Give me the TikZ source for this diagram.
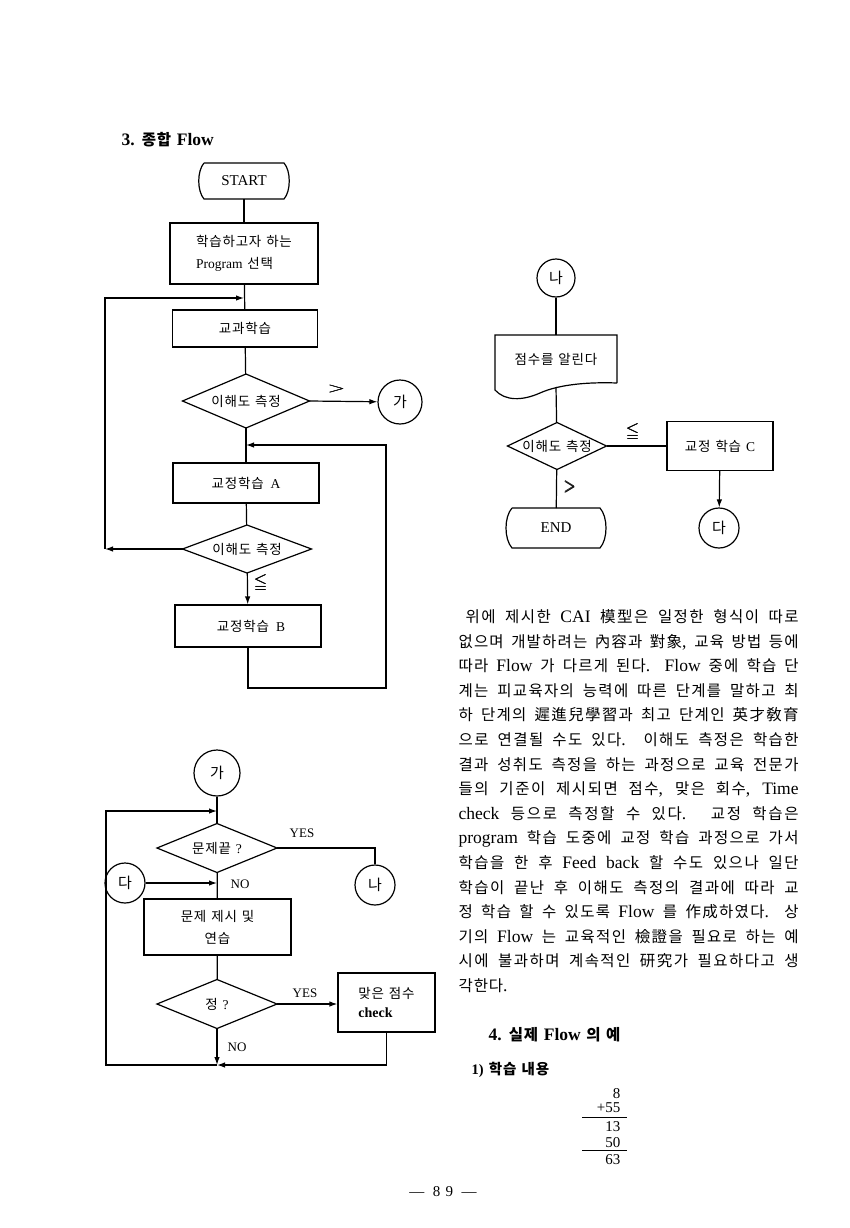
\documentclass[tikz,border=0pt]{standalone}
\usepackage{fontspec}
\usepackage{amsmath}
\usepackage{amssymb}
\usepackage{graphicx}
\setmainfont{Liberation Serif}
\newfontfamily\krfont{Noto Sans CJK KR}
\newfontfamily\latinbig{Liberation Serif}[Scale=1.13]
\usetikzlibrary{arrows.meta,shapes.geometric,calc}
% automatic switch to the Korean font for Hangul and Hanja
\def\LatinFont{\rmfamily}
\chardef\KRcls=10
\newcount\krcnt
\newcommand\setKRrange[2]{%
  \krcnt=#1\relax
  \loop
    \XeTeXcharclass\krcnt=\KRcls
    \advance\krcnt by 1
  \ifnum\krcnt<#2\relax\repeat}
\setKRrange{"AC00}{"D7A4}
\setKRrange{"4E00}{"A000}
\setKRrange{"F900}{"FB00}
\setKRrange{"3131}{"318F}
\XeTeXinterchartokenstate=1
\XeTeXinterchartoks 0 \KRcls = {\krfont}
\XeTeXinterchartoks 4095 \KRcls = {\krfont}
\XeTeXinterchartoks \KRcls 0 = {\LatinFont}
\XeTeXinterchartoks \KRcls 4095 = {\LatinFont}
\XeTeXinterchartoks \KRcls \KRcls = {\hskip 0.06em plus 0.08em\relax}
\newcommand\FS[2]{\fontsize{#1}{#2}\selectfont\spaceskip=0.36em plus 0.6em minus 0.05em\relax}
\newcommand\BigLatin{\def\LatinFont{\latinbig}\latinbig}
\begin{document}
\begin{tikzpicture}[x=1pt,y=-1pt,line width=1.2pt,
  >={Latex[length=8pt,width=5.5pt]},
  box/.style={draw, rectangle, inner sep=2pt, font=\FS{13.5}{22}},
  dia/.style={draw, diamond, inner sep=0pt, outer sep=0pt,
     label={[font=\FS{13.5}{15}]center:#1}},
  circ/.style={draw, circle, inner sep=0pt, minimum size=#1, font=\FS{15}{16}},
  term/.style={rectangle, inner sep=0pt, outer sep=0pt},
  lbl/.style={inner sep=0pt, font=\FS{13}{15}},
  sym/.style={inner sep=0pt, font=\FS{17}{17}},
  pline/.style={anchor=base west, inner sep=0pt, font=\FS{15.5}{18}\BigLatin},
  num/.style={anchor=east, inner sep=0pt, font=\FS{15}{16}}]
\fill[white] (0,0) rectangle (849,1228);
\useasboundingbox (0,0) rectangle (849,1228);

% ---------- title ----------
\node[anchor=west, inner sep=0pt, font=\bfseries\FS{15.5}{18}\BigLatin] (title) at (121,140) {3. 종합 Flow};

% ---------- main flow (top left) ----------
\node[term, minimum width=80pt, minimum height=36pt, font=\FS{15}{16}] (S) at (244,181) {START};
\draw (S.north west) -- (S.north east) .. controls +(7,8) and +(7,-8) .. (S.south east)
      -- (S.south west) .. controls +(-7,-8) and +(-7,8) .. (S.north west);
\node[box, minimum width=148pt, minimum height=61pt, align=left] (P) at (244,253.5) {학습하고자 하는\\Program 선택};
\node[box, minimum width=145pt, minimum height=37pt] (K) at (245,328.5) {교과학습};
\node[dia={이해도 측정}, minimum width=127pt, minimum height=54pt] (D1) at (246,401) {};
\node[circ=44pt] (G1) at (400,402) {가};
\node[box, minimum width=146pt, minimum height=40pt] (A) at (246,483) {교정학습\hspace{7pt}A};
\node[dia={이해도 측정}, minimum width=129pt, minimum height=48pt] (D2) at (247,549) {};
\node[box, minimum width=146pt, minimum height=42pt] (B) at (248,626) {\hspace{6pt}교정학습\hspace{7pt}B};

\coordinate (J1) at (244,298);
\coordinate (L2) at (105,549);
\coordinate (J2) at (246,445);
\coordinate (R2) at (386,688);

\draw (S) -- (P);
\draw (P) -- (K);
\draw (K) -- (D1);
\draw[->] (D1.east) -- (G1);
\draw (D1) -- (A);
\draw (A) -- (D2);
\draw[->] (D2.west) -- (L2);
\draw[->] (L2) |- (J1);
\draw[->] (D2) -- (B);
\draw[->] (B.south) |- (R2) |- (J2);

\node[sym] (gt1) at (337,389) {\scalebox{1.3}[0.8]{$\pmb{>}$}};
\node[sym] (le1) at (261,583) {$\pmb{\leqq}$};

% ---------- top right flow ----------
\node[circ=38pt] (N1) at (556,278) {나};
\node[term, minimum width=122pt, minimum height=48pt, font=\FS{13.5}{15}] (Doc) at (556,359) {점수를 알린다};
\draw (Doc.south east) -- (Doc.north east) -- (Doc.north west) -- (495,390)
      .. controls (505,401) and (522,401) .. (540,393)
      .. controls (560,384) and (590,382) .. (Doc.south east);
\coordinate (W) at (556,387);
\node[dia={이해도 측정}, minimum width=99pt, minimum height=47pt] (D3) at (557,446) {};
\node[box, minimum width=106pt, minimum height=49pt] (C) at (720,446) {교정\hspace{5pt}학습\hspace{5pt}C};
\node[circ=40pt] (Da1) at (719,528) {다};
\node[term, minimum width=88pt, minimum height=40pt, font=\FS{15}{16}] (E) at (556,528) {END};
\draw (E.north west) -- (E.north east) .. controls +(8,9) and +(8,-9) .. (E.south east)
      -- (E.south west) .. controls +(-8,-9) and +(-8,9) .. (E.north west);

\draw (N1) -- (Doc);
\draw (W) -- (D3);
\draw (D3.east) -- (C.west);
\draw[->] (C) -- (Da1);
\draw (D3) -- (E);

\node[sym] (le2) at (633,432) {$\pmb{\leqq}$};
\node[sym] (gt2) at (570,487) {\scalebox{0.9}[1.2]{$\pmb{>}$}};

% ---------- bottom left flow ----------
\node[circ=46pt] (G2) at (217,773) {가};
\node[dia={문제끝 ?}, minimum width=120pt, minimum height=49pt] (D4) at (217,848) {};
\node[circ=40pt] (N2) at (375,885) {나};
\node[circ=40pt] (Da2) at (125,883) {다};
\node[box, minimum width=147pt, minimum height=56pt, align=center] (Q) at (217.5,927) {문제 제시 및\\연습};
\node[dia={정 ?}, minimum width=120pt, minimum height=49pt] (D5) at (217,1004) {};
\node[box, minimum width=97pt, minimum height=59pt, align=left, font=\FS{13.5}{19}] (M) at (386.5,1002.5) {맞은 점수\\{\bfseries\FS{14}{19}check}};

\coordinate (J3) at (217,811);
\coordinate (J4) at (217,883);
\coordinate (J5) at (217,1065);
\coordinate (L3) at (106,1065);

\draw (G2) -- (D4);
\draw (D4.east) -| (N2.north);
\draw[->] (Da2) -- (J4);
\draw (D4) -- (Q);
\draw (Q) -- (D5);
\draw[->] (D5.east) -- (D5.east -| M.west);
\draw[->] (D5) -- (J5);
\draw[->] (M.south) |- (J5);
\draw[->] (J5) -- (L3) |- (J3);

\node[lbl] (yes1) at (302,833) {YES};
\node[lbl] (no1) at (240,884) {NO};
\node[lbl] (yes2) at (305,993) {YES};
\node[lbl] (no2) at (237,1047) {NO};

% ---------- paragraph ----------
\node[pline] (t1) at (465,622.5) {\makebox[333pt][s]{위에 제시한 CAI 模型은 일정한 형식이 따로}};
\node[pline] (t2) at (458,647.1) {\makebox[340pt][s]{없으며 개발하려는 內容과 對象, 교육 방법 등에}};
\node[pline] (t3) at (458,671.7) {\makebox[340pt][s]{따라 Flow 가 다르게 된다. Flow 중에 학습 단}};
\node[pline] (t4) at (458,696.3) {\makebox[340pt][s]{계는 피교육자의 능력에 따른 단계를 말하고 최}};
\node[pline] (t5) at (458,720.9) {\makebox[340pt][s]{하 단계의 遲進兒學習과 최고 단계인 英才敎育}};
\node[pline] (t6) at (458,745.5) {\makebox[340pt][s]{으로 연결될 수도 있다. 이해도 측정은 학습한}};
\node[pline] (t7) at (458,770.1) {\makebox[340pt][s]{결과 성취도 측정을 하는 과정으로 교육 전문가}};
\node[pline] (t8) at (458,794.7) {\makebox[340pt][s]{들의 기준이 제시되면 점수, 맞은 회수, Time}};
\node[pline] (t9) at (458,819.3) {\makebox[340pt][s]{check 등으로 측정할 수 있다. 교정 학습은}};
\node[pline] (t10) at (458,843.9) {\makebox[340pt][s]{program 학습 도중에 교정 학습 과정으로 가서}};
\node[pline] (t11) at (458,868.5) {\makebox[340pt][s]{학습을 한 후 Feed back 할 수도 있으나 일단}};
\node[pline] (t12) at (458,893.1) {\makebox[340pt][s]{학습이 끝난 후 이해도 측정의 결과에 따라 교}};
\node[pline] (t13) at (458,917.7) {\makebox[340pt][s]{정 학습 할 수 있도록 Flow 를 作成하였다. 상}};
\node[pline] (t14) at (458,942.3) {\makebox[340pt][s]{기의 Flow 는 교육적인 檢證을 필요로 하는 예}};
\node[pline] (t15) at (458,966.9) {\makebox[340pt][s]{시에 불과하며 계속적인 研究가 필요하다고 생}};
\node[pline] (t16) at (458,991.5) {각한다.};

% ---------- section 4 ----------
\node[anchor=west, inner sep=0pt, font=\bfseries\FS{15.5}{18}\BigLatin] (sec4) at (488,1035) {4. 실제 Flow 의 예};
\node[anchor=west, inner sep=0pt, font=\bfseries\FS{14.5}{16}] (sub1) at (471,1070) {1) 학습 내용};

\node[num] (n1) at (621,1094) {8};
\node[num] (n2) at (621,1108) {+55};
\node[num] (n3) at (621,1127) {13};
\node[num] (n4) at (621,1143) {50};
\node[num] (n5) at (621,1160) {63};
\draw[line width=0.9pt] (582,1117) -- (627,1117);
\draw[line width=0.9pt] (582,1150) -- (627,1150);

\node[inner sep=0pt, font=\FS{15}{16}] (pg) at (443,1192) {—\hspace{3pt} 8 9 \hspace{3pt}—};
\end{tikzpicture}
\end{document}
